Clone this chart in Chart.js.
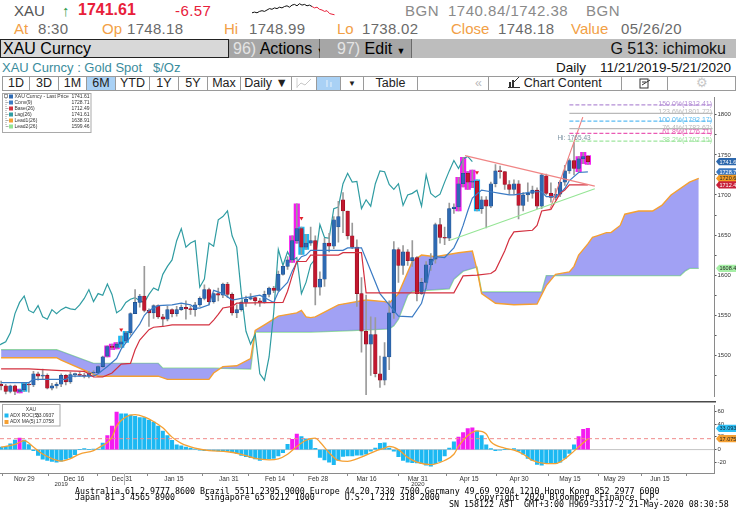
<!DOCTYPE html>
<html>
<head>
<meta charset="utf-8">
<title>XAU Curncy - ichimoku</title>
<script src="https://cdn.jsdelivr.net/npm/chart.js@4.4.1/dist/chart.umd.min.js"></script>
<style>
  body { margin:0; width:736px; height:530px; overflow:hidden; background:#fff; position:relative;
         font-family:"Liberation Sans", Arial, sans-serif; }
  .t { position:absolute; white-space:nowrap; line-height:1; }
  .r1 { top:3px; font-size:15px; }
  .r2 { top:21px; font-size:15px; }
  .lab { color:#f2a046; }
  .val { color:#6a6a6a; letter-spacing:0.3px; }
  .gry { color:#8a8a8a; letter-spacing:0.5px; }
  #bar { position:absolute; left:0; top:39px; width:736px; height:19px; background:#bdbdbd; }
  #bar div { position:absolute; top:0; height:19px; box-sizing:border-box; font-size:16px; line-height:19px; white-space:nowrap; }
  .tb { position:absolute; top:76px; height:15px; box-sizing:border-box; border:1px solid #9a9a9a; background:#fff;
        font-size:12.5px; line-height:13px; text-align:center; color:#222; }
  .ft { position:absolute; font-family:"DejaVu Sans Mono", monospace; font-size:8.3px; line-height:1; color:#000; white-space:pre; }
  canvas { position:absolute; }
</style>
</head>
<body>

<!-- quote line -->
<div class="t r1" style="left:14px;color:#555">XAU</div>
<div class="t r1" style="left:62px;color:#2c9a4c">&#8593;</div>
<div class="t r1" style="left:78px;color:#e8203a;font-weight:bold;font-size:16px;top:2px">1741.61</div>
<div class="t r1" style="left:175px;color:#e8203a;letter-spacing:0.4px">-6.57</div>
<canvas id="spark" width="102" height="16" style="left:251px;top:2px"></canvas>
<div class="t r1 gry" style="left:405px">BGN</div>
<div class="t r1 gry" style="left:448px">1740.84/1742.38</div>
<div class="t r1 gry" style="left:586px">BGN</div>

<div class="t r2 lab" style="left:14px">At</div><div class="t r2 val" style="left:38px">8:30</div>
<div class="t r2 lab" style="left:102px">Op</div><div class="t r2 val" style="left:127px">1748.18</div>
<div class="t r2 lab" style="left:224px">Hi</div><div class="t r2 val" style="left:249px">1748.99</div>
<div class="t r2 lab" style="left:337px">Lo</div><div class="t r2 val" style="left:362px">1738.02</div>
<div class="t r2 lab" style="left:451px">Close</div><div class="t r2 val" style="left:498px">1748.18</div>
<div class="t r2 lab" style="left:571px">Value</div><div class="t r2 val" style="left:621px">05/26/20</div>

<!-- command bar -->
<div id="bar">
  <div style="left:0;width:229px;background:#d8d8d8;border:1px solid #222;padding-left:2px;line-height:17px">XAU Curncy</div>
  <div style="left:229px;width:91px;background:#a6a6a6;border-right:1px solid #6a6a6a;padding-left:4px">
    <span style="color:#e4e4e4">96)</span> Actions <span style="font-size:9px">&#9660;</span></div>
  <div style="left:320px;width:92px;background:#a6a6a6;border-right:1px solid #6a6a6a;padding-left:17px">
    <span style="color:#e4e4e4">97)</span> Edit <span style="font-size:9px">&#9660;</span></div>
  <div style="right:10px;color:#111">G 513: ichimoku</div>
</div>

<div class="t" style="left:2px;top:61px;font-size:13px;color:#3a8c9c">XAU Curncy : Gold Spot &nbsp; $/Oz</div>
<div class="t" style="left:556px;top:61px;font-size:13.5px;color:#111">Daily</div>
<div class="t" style="left:600px;top:61px;font-size:13.5px;color:#111">11/21/2019-5/21/2020</div>

<!-- toolbar -->
<div class="tb" style="left:2px;width:28px">1D</div>
<div class="tb" style="left:29px;width:30px">3D</div>
<div class="tb" style="left:58px;width:29px">1M</div>
<div class="tb" style="left:86px;width:30px;background:#a9d1f5">6M</div>
<div class="tb" style="left:115px;width:35px">YTD</div>
<div class="tb" style="left:149px;width:30px">1Y</div>
<div class="tb" style="left:178px;width:30px">5Y</div>
<div class="tb" style="left:207px;width:34px">Max</div>
<div class="tb" style="left:240px;width:52px">Daily &#9660;</div>
<div class="tb" style="left:291px;width:26px;color:#ccc">
  <svg width="16" height="10" style="margin-top:1px"><polyline points="1,9 5,5 9,7 15,1" fill="none" stroke="#c8c8c8" stroke-width="1"/><line x1="1" y1="0" x2="1" y2="10" stroke="#d0d0d0"/></svg></div>
<div class="tb" style="left:316px;width:25px;background:#a9d1f5">
  <svg width="10" height="10" style="margin-top:1px"><line x1="3" y1="2" x2="3" y2="9" stroke="#e8f2fb"/><line x1="7" y1="4" x2="7" y2="9" stroke="#e8f2fb"/></svg></div>
<div class="tb" style="left:340px;width:24px;font-size:8px">&#9660;</div>
<div class="tb" style="left:363px;width:55px">Table</div>
<div class="tb" style="left:417px;width:72px;text-align:right;padding-right:6px;color:#bbb">&#171;</div>
<div class="tb" style="left:488px;width:134px">
  <svg width="12" height="11" style="vertical-align:-1px"><rect x="1" y="5" width="2" height="5" fill="#333"/><rect x="4" y="3" width="2" height="7" fill="#333"/><line x1="6" y1="5" x2="11" y2="0" stroke="#333"/><line x1="0" y1="10.5" x2="12" y2="10.5" stroke="#333"/></svg>
  Chart Content</div>
<div class="tb" style="left:621px;width:47px">
  <svg width="12" height="11" style="margin-top:1px"><rect x="1" y="1" width="8" height="9" fill="none" stroke="#333"/><line x1="3" y1="4" x2="7" y2="4" stroke="#333"/><line x1="3" y1="7" x2="11" y2="2" stroke="#333"/></svg></div>
<div class="tb" style="left:667px;width:69px;color:#c8c8c8">&#9881;</div>

<canvas id="main" width="736" height="308" style="left:0;top:93px"></canvas>
<canvas id="adx" width="736" height="90" style="left:0;top:401px"></canvas>

<div class="ft" style="left:75px;top:487px">Australia 61 2 9777 8600 Brazil 5511 2395 9000 Europe 44 20 7330 7500 Germany 49 69 9204 1210 Hong Kong 852 2977 6000</div>
<div class="ft" style="left:75px;top:493px">Japan 81 3 4565 8900      Singapore 65 6212 1000      U.S. 1 212 318 2000       Copyright 2020 Bloomberg Finance L.P.</div>
<div class="ft" style="left:449px;top:499.5px">SN 158122 AST  GMT+3:00 H969-3317-2 21-May-2020 08:30:58</div>

<script>
// ---------------------------------------------------------------------------
// Data: daily XAU bars 11/21/2019 - 5/21/2020 (index 0 = Nov 21, 128 = May 21)
// ---------------------------------------------------------------------------
const openPx = [1471,1464,1462,1455,1462,1455,1457,1464,1463,1477,1474,1475,1459,1462,1464,1475,1467,1476,1476,1475,
  1474,1478,1478,1486,1499,1511,1510,1514,1518,1528,1552,1566,1574,1556,1553,1562,1548,1545,1557,1552,
  1557,1560,1558,1557,1563,1571,1582,1567,1577,1575,1589,1576,1553,1557,1566,1570,1572,1568,1566,1576,
  1584,1581,1601,1611,1619,1643,1658,1635,1640,1643,1585,1595,1640,1636,1660,1694,1680,1649,1635,1577,
  1530,1514,1526,1477,1469,1498,1553,1632,1612,1629,1618,1622,1577,1591,1613,1620,1663,1647,1646,1683,
  1685,1714,1727,1716,1717,1683,1694,1686,1714,1730,1729,1713,1707,1714,1687,1700,1702,1706,1686,1724,
  1702,1697,1701,1716,1730,1743,1733,1745,1748.18];
const highPx = [1474,1468,1464,1463,1463,1458,1466,1466,1480,1479,1483,1477,1465,1466,1477,1476,1479,1478,1479,1478,
  1480,1481,1487,1499,1512,1514,1516,1524,1530,1553,1582,1576,1611,1558,1563,1563,1551,1561,1558,1561,
  1563,1568,1561,1566,1573,1588,1584,1578,1584,1590,1591,1578,1563,1568,1574,1577,1573,1571,1580,1585,
  1586,1605,1612,1623,1649,1689,1660,1651,1660,1649,1604,1646,1652,1673,1692,1703,1680,1665,1644,1597,
  1575,1548,1547,1499,1516,1568,1642,1634,1637,1632,1643,1623,1596,1617,1627,1665,1671,1660,1690,1689,
  1722,1747,1729,1731,1719,1698,1698,1716,1738,1736,1729,1718,1719,1718,1703,1715,1711,1709,1727,1726,
  1715,1708,1718,1737,1745,1765.43,1748,1753,1748.99];
const lowPx = [1461,1457,1452,1453,1451,1453,1455,1454,1461,1469,1471,1458,1457,1459,1461,1463,1465,1473,1474,1472,
  1472,1474,1477,1485,1498,1507,1508,1510,1516,1525,1552,1560,1554,1536,1546,1546,1536,1543,1548,1549,
  1556,1545,1551,1549,1561,1569,1563,1565,1568,1572,1572,1550,1547,1555,1561,1569,1563,1561,1565,1573,
  1578,1580,1600,1607,1616,1640,1626,1632,1637,1563,1575,1586,1629,1633,1641,1653,1645,1633,1561,1504,
  1451,1475,1473,1460,1463,1482,1546,1591,1601,1612,1611,1568,1576,1583,1606,1615,1640,1638,1643,1677,
  1680,1710,1707,1709,1680,1677,1659,1684,1710,1721,1707,1701,1701,1670,1680,1692,1696,1683,1683,1700,
  1691,1694,1698,1712,1727,1725,1729,1739,1738.02];
const closePx = [1464,1462,1455,1462,1455,1457,1464,1463,1477,1474,1475,1459,1462,1464,1475,1467,1476,1476,1475,1474,
  1478,1478,1486,1498,1511,1510,1514,1517,1528,1552,1566,1574,1556,1553,1562,1548,1545,1557,1552,1557,
  1560,1558,1557,1563,1571,1582,1567,1577,1575,1589,1576,1553,1557,1566,1570,1572,1568,1566,1576,1584,
  1581,1601,1611,1619,1643,1658,1635,1640,1643,1585,1595,1640,1636,1669,1673,1680,1649,1635,1577,1530,
  1514,1526,1477,1469,1498,1553,1632,1612,1629,1618,1622,1577,1591,1613,1620,1663,1647,1646,1683,1685,
  1714,1727,1716,1717,1683,1694,1686,1714,1730,1729,1713,1707,1714,1687,1700,1702,1706,1686,1725,1702,
  1697,1701,1716,1730,1743,1733,1745,1748,1741.61];

// ichimoku lines as [bar index, price]
const convLine = [[1,1466],[7,1466],[8,1470],[15,1470],[16,1474],[21,1474],[22,1477],[24,1486],[26,1496],[27,1508],
  [29,1523],[31,1539],[32,1550],[33,1556],[35,1562],[38,1563],[40,1565],[42,1563],[43,1559],[44,1559],
  [46,1563],[47,1581],[49,1577],[51,1569],[53,1571],[55,1573],[57,1575],[59,1569],[60,1566],[61,1579],
  [63,1591],[64,1605],[65,1616],[66,1623],[67,1625],[68,1631],[75,1631],[76,1634],[79,1634],[83,1577],
  [87,1549],[90,1548],[92,1565],[93,1585],[94,1613],[95,1623],[97,1622],[99,1634],[100,1646],[101,1662],
  [102,1680],[103,1696],[105,1706],[107,1704],[109,1702],[111,1700],[112,1700],[114,1702],[116,1704],[118,1704],
  [119,1698],[121,1698],[122,1702],[123,1708],[124,1718],[126,1728],[128,1728.71]];
const baseLine = [[1,1483],[7,1483],[14,1481],[19,1480],[20,1477],[21,1473],[23,1473],[25,1478],[27,1489],[29,1490],
  [30,1507],[31,1519],[33,1532],[34,1535],[36,1536],[38,1538],[46,1538],[47,1544],[48,1551],[49,1559],
  [51,1561],[52,1565],[62,1566],[63,1580],[64,1599],[65,1617],[67,1617],[68,1625],[74,1625],[75,1628],
  [79,1628],[80,1578],[99,1578],[101,1599],[104,1600],[107,1602],[108,1606],[110,1630],[111,1645],[112,1654],
  [116,1656],[117,1662],[118,1680],[120,1682],[121,1692],[122,1702],[123,1706],[124,1712.49],[128,1712.49]];
// lagging span, one value per bar starting at bar 0
const lagSpan = [1510,1514,1517,1528,1552,1566,1574,1556,1553,1562,1548,1545,1557,1552,1557,1560,1558,1557,1563,1571,
  1582,1567,1577,1575,1589,1576,1553,1557,1566,1570,1572,1568,1566,1576,1584,1581,1601,1611,1619,1643,
  1658,1635,1640,1643,1585,1595,1640,1636,1669,1673,1680,1649,1635,1577,1530,1514,1526,1477,1469,1498,
  1553,1632,1612,1629,1618,1622,1577,1591,1613,1620,1663,1647,1646,1683,1685,1714,1727,1716,1717,1683,
  1694,1686,1714,1730,1729,1713,1707,1714,1687,1700,1702,1706,1686,1725,1702,1697,1701,1716,1730,1743,
  1733,1745,1748,1741.61];
const lead1 = [[1,1497],[13,1497],[14,1494],[22,1474],[35,1474],[37,1470],[46,1470],[47,1478],[49,1486],[52,1487],
  [55,1496],[56,1531],[58,1538],[61,1549],[65,1553],[66,1556],[67,1548],[68,1547],[69,1548],[74,1563],
  [80,1569],[84,1567],[85,1565],[87,1577],[90,1617],[92,1625],[95,1623],[100,1628],[103,1630],[104,1607],
  [105,1577],[108,1565],[112,1563],[117,1564],[119,1587],[121,1601],[124,1604],[125,1611],[126,1625],[128,1638.91],
  [129,1647],[130,1649],[132,1653],[133,1653],[135,1662],[136,1676],[139,1680],[142,1680],[144,1687],[146,1700],
  [150,1716],[152,1720.65]];
const lead2 = [[1,1507],[13,1507],[14,1505],[21,1490],[35,1490],[36,1484],[47,1484],[55,1483],[56,1529],[68,1529],
  [77,1531],[85,1533],[86,1537],[87,1545],[88,1560],[89,1575],[90,1580],[98,1583],[99,1595],[101,1605],
  [104,1610],[105,1579],[118,1579],[119,1599.46],[148,1599.46],[149,1605],[150,1608.49],[152,1608.49]];

// drawn studies
const fibLevels = [1812.41, 1801.72, 1792.17, 1782.62, 1776.71, 1767.15];
const fibPct = ["150.0%", "123.6%", "100.0%", "76.4%", "61.8%", "38.2%"];
const fibRange = [124, 155];
const trendDown = [[101.4,1749],[129.5,1711]];
const trendUp = [[98.2,1643.5],[129.5,1707.7]];
const trendSteep = [[119.8,1682],[126.9,1797]];
const signalMarks = [[27,1532],[66,1671],[104,1728]];
const periodHigh = [125, 1765.43];
const magentaIdx = [5,24,25,26,64,65,100,101,102,103,126,127,128];
const cyanIdx = [6,27,28,66,67,104];

// lower panel: ADX ROC(5) bars and ADX MA(5)
const adxRoc = [3,4,5,9,15,18,15,8,-1.5,-9,-15,-17,-18.5,-19.5,-18,-15,-12.7,-7.8,0,1.5,
  0,0.5,1,10,22,36.6,58.6,56,56,54,52,50,50,46,43,36.6,29,22,14.6,7.3,
  5.9,3.9,2.4,1,-1,-1.5,-1.5,-1.5,-2,-2,-2.5,-4,-6,-9,-11,-12.7,-14.6,-17,-15.6,-14.6,
  -13.7,-9.8,-4.9,8.3,16,24.4,20.5,17,15.6,2,-12.2,-16,-19.5,-23.4,-17,-10.7,-9.8,-9.8,-8.8,-8.8,
  -7.3,-2.4,2.4,9.8,10.7,2.4,-2.4,-11,-17,-19.5,-20.5,-21,-22,-24.4,-26,-22,-18.5,-9.8,2.4,12.2,
  19.5,26.8,32.7,34,29,22,7.3,1.5,-1.5,-1,0,0,1.5,-2.4,-7.3,-13.7,-17,-23,-24.4,-22,
  -22,-22,-19.5,-13.7,-5.9,7.3,20.5,31.7,33.0937];
const adxMa = [[1,4],[4,8],[6,14],[8,4],[10,-7],[12,-14],[14,-18],[16,-14],[18,-7],[21,-1.5],
  [22,2.4],[25,19.5],[26,37],[28,51],[30,54.6],[32,51],[34,44],[36,34],[38,19.5],[40,9.8],
  [43,2.4],[46,-1.5],[50,-3.4],[53,-7.3],[56,-13.7],[59,-16],[61,-14.6],[63,-7.3],[65,4.9],[67,14.6],
  [69,18],[70,12],[72,-4.9],[74,-17],[76,-18.5],[78,-14.6],[80,-8.8],[82,-2.4],[84,2.4],[85,4.9],
  [87,0],[89,-12.2],[91,-19.5],[94,-23.4],[97,-17],[99,-7.3],[100,4.9],[102,22],[104,29.3],[106,24.4],
  [107,12.2],[110,2.4],[112,-1],[114,-7.3],[116,-17],[119,-22],[121,-22],[123,-14.6],[125,-2.4],[128,17.0758]];

// axes and legends
const priceTicks = [1475,1500,1525,1550,1575,1600,1625,1650,1675,1700,1725,1750,1775,1800];
const adxTicks = [-20,0,20,40,60];
const tickLabels = ["Nov 29","Dec 16","Dec 31","Jan 15","Jan 31","Feb 14","Feb 28","Mar 16","Mar 31","Apr 15","Apr 30","May 15","May 29","Jun 15"];
const tickIdx = [6,16.8,27.2,38.4,50.3,60.3,69.6,80.1,91.2,102.3,113.1,124.1,133.7,143.6];
const tickBounds = [1.1,11.2,21.7,32.5,44.4,54.5,64.2,75.8,86.8,97.3,108.1,119.3,130.1,139.5,149.2];
const yearLabels = ["2019","2020"];
const yearIdx = [14,91.2];
const yearBreak = 27.5;
const legendNames = ["XAU Curncy - Last Price","Conv(9)","Base(26)","Lag(26)","Lead1(26)","Lead2(26)"];
const legendVals = [1741.61, 1728.71, 1712.49, 1741.61, 1638.91, 1599.46];
const sparkBlack = [1743,1743.5,1743,1744,1744.5,1744,1745,1746,1745.5,1746.5,1746,1747,1746.5,1747.5,1748,1747,
  1748.5,1749,1748,1749.5,1748.5,1749,1748,1748.5,1747.5];
const sparkRed = [1747.5,1746.5,1747,1745.5,1745,1744,1744.5,1742.5,1742,1741.6];

// ---------------------------------------------------------------------------
const xMin = 0.76, xMax = 155.3;
const C = {
  up: "#2e6ab3", upEdge: "#1d4d8c", down: "#c2182f", downEdge: "#8c0d20", wick: "#9a9a9a",
  conv: "#3b7bc4", base: "#d3303f", lag: "#2f9ca2", lead1: "#f5a032", lead2: "#93e493",
  cloud: "rgba(128,128,240,0.74)", magenta: "#f41cf0", cyan: "#1cb8f2"
};
const fibColors = ["#b48ed6", "#b9b9b9", "#5bbcf3", "#b9b9b9", "#ea5bb4", "#9de59d"];
const fibDash = [[4,2], [], [4,2], [], [4,2], [4,2]];

Chart.defaults.font.family = "'Liberation Sans', Arial, sans-serif";
Chart.defaults.animation = false;
Chart.defaults.plugins.legend.display = false;
Chart.defaults.plugins.tooltip.enabled = false;

const pts = arr => arr.map(([x, y]) => ({ x, y }));
const bars = openPx.map((_, i) => i);

function line(data, color, width, extra) {
  return Object.assign({ type: "line", data: pts(data), borderColor: color, borderWidth: width,
    pointRadius: 0, tension: 0, fill: false }, extra || {});
}

function drawTags(chart, tags) {
  const ctx = chart.ctx, y = chart.scales.y, x0 = chart.chartArea.right + 2;
  ctx.save();
  ctx.font = "5.5px 'Liberation Sans'";
  ctx.textBaseline = "middle";
  tags.forEach(t => {
    const py = y.getPixelForValue(t.v);
    ctx.fillStyle = t.bg;
    ctx.beginPath();
    ctx.moveTo(x0, py);
    ctx.lineTo(x0 + 3, py - 3.6);
    ctx.lineTo(736, py - 3.6);
    ctx.lineTo(736, py + 3.6);
    ctx.lineTo(x0 + 3, py + 3.6);
    ctx.closePath();
    ctx.fill();
    ctx.fillStyle = t.fg;
    ctx.fillText(t.v.toFixed(t.d), x0 + 3.5, py + 0.4);
  });
  ctx.restore();
}

// ---------------------------- price panel ----------------------------------
const priceDecor = {
  id: "priceDecor",
  afterDatasetsDraw(chart) {
    const ctx = chart.ctx, x = chart.scales.x, y = chart.scales.y;
    ctx.save();
    // fibonacci labels
    ctx.font = "7px 'Liberation Sans'";
    ctx.textAlign = "right";
    ctx.textBaseline = "bottom";
    fibLevels.forEach((v, k) => {
      ctx.fillStyle = fibColors[k];
      ctx.fillText(fibPct[k] + "(" + v.toFixed(2) + ")", chart.chartArea.right - 2, y.getPixelForValue(v) + 2.5);
    });
    // period high note
    ctx.font = "6.5px 'Liberation Sans'";
    ctx.textAlign = "center";
    ctx.fillStyle = "#7d93a3";
    ctx.fillText("Hi: " + periodHigh[1].toFixed(2), x.getPixelForValue(periodHigh[0]), y.getPixelForValue(periodHigh[1]) - 1.5);

    // legend box
    ctx.fillStyle = "#fff";
    ctx.strokeStyle = "#a9a9a9";
    ctx.lineWidth = 1;
    ctx.fillRect(2, 0.5, 89, 39);
    ctx.strokeRect(2.5, 0.5, 88.5, 39);
    const sw = [C.up, C.conv, C.base, C.lag, C.lead1, C.lead2];
    ctx.strokeStyle = "#9a9a9a";
    ctx.strokeRect(4.5, 1.5, 3, 3);
    ctx.setLineDash([1, 1]);
    ctx.beginPath();
    ctx.moveTo(6, 5); ctx.lineTo(6, 33.5);
    ctx.stroke();
    ctx.setLineDash([]);
    ctx.font = "5px 'Liberation Sans'";
    ctx.textBaseline = "middle";
    legendNames.forEach((n, k) => {
      const ry = 3.5 + k * 6;
      if (k > 0) { ctx.strokeStyle = "#b0b0b0"; ctx.beginPath(); ctx.moveTo(6, ry); ctx.lineTo(8.5, ry); ctx.stroke(); }
      ctx.fillStyle = sw[k];
      ctx.fillRect(9, ry - 2, 4, 4);
      ctx.fillStyle = "#333";
      ctx.textAlign = "left";
      ctx.fillText(n, 14.5, ry);
      ctx.textAlign = "right";
      ctx.fillText(legendVals[k].toFixed(2), 89.5, ry);
    });
    ctx.restore();

    drawTags(chart, [
      { v: closePx[closePx.length - 1], d: 2, bg: "#2d68ad", fg: "#fff" },
      { v: convLine[convLine.length - 1][1], d: 2, bg: "#3b78c0", fg: "#fff" },
      { v: lead1[lead1.length - 1][1], d: 2, bg: "#f39c24", fg: "#222" },
      { v: baseLine[baseLine.length - 1][1], d: 2, bg: "#c8203a", fg: "#fff" },
      { v: lead2[lead2.length - 1][1], d: 2, bg: "#a6efa6", fg: "#222" }
    ]);
  }
};

const hlIdx = magentaIdx.concat(cyanIdx);
const priceSets = [
  line(lead1, C.lead1, 1.4, { fill: { target: "+1", above: C.cloud, below: C.cloud }, order: 20 }),
  line(lead2, C.lead2, 1.4, { order: 20 }),
  { type: "bar", data: hlIdx.map(i => ({ x: i, y: [lowPx[i], highPx[i]] })),
    backgroundColor: hlIdx.map(i => magentaIdx.includes(i) ? C.magenta : C.cyan),
    barThickness: 5.5, grouped: false, order: 15 },
  line(lagSpan.map((v, i) => [i, v]), C.lag, 1.2, { order: 12 }),
  { type: "bar", data: bars.map(i => ({ x: i, y: [lowPx[i], highPx[i]] })),
    backgroundColor: C.wick, barThickness: 1, grouped: false, order: 10 },
  { type: "bar", data: bars.map(i => ({ x: i, y: [openPx[i], closePx[i]] })),
    backgroundColor: bars.map(i => closePx[i] >= openPx[i] ? C.up : C.down),
    borderColor: bars.map(i => closePx[i] >= openPx[i] ? C.upEdge : C.downEdge),
    borderWidth: 0.6, borderSkipped: false, barThickness: 3.6, minBarLength: 1, grouped: false, order: 9 },
  line(baseLine, C.base, 1.2, { order: 5 }),
  line(convLine, C.conv, 1.2, { order: 5 }),
  line(trendDown, "#f08585", 1.1, { order: 4 }),
  line(trendUp, "#95e595", 1.1, { order: 4 }),
  line(trendSteep, "#f07a7a", 1.1, { order: 4 }),
  { type: "scatter", data: pts(signalMarks), pointStyle: "triangle", rotation: 180, radius: 2.3,
    backgroundColor: "#e2202a", borderWidth: 0, order: 1 }
];
fibLevels.forEach((v, k) => {
  priceSets.push(line([[fibRange[0], v], [fibRange[1], v]], fibColors[k], 1.2, { borderDash: fibDash[k], order: 3 }));
});

new Chart(document.getElementById("main"), {
  type: "line",
  data: { datasets: priceSets },
  options: {
    responsive: false,
    layout: { padding: 0, autoPadding: false },
    scales: {
      x: { type: "linear", min: xMin, max: xMax, offset: false, grid: { offset: false }, display: false },
      y: {
        type: "linear", position: "right", min: 1448.8, max: 1821.4,
        afterBuildTicks: s => { s.ticks = priceTicks.map(v => ({ value: v })); },
        afterFit: s => { s.width = 22; },
        grid: { drawOnChartArea: false, tickLength: 2.5, color: "#555" },
        border: { color: "#8a8a8a" },
        ticks: { font: { size: 6 }, color: "#333", padding: 1, callback: v => (v % 50 === 0 ? v : "") }
      }
    }
  },
  plugins: [priceDecor]
});

// ---------------------------- ADX panel ------------------------------------
const adxDecor = {
  id: "adxDecor",
  afterDraw(chart) {
    const ctx = chart.ctx, x = chart.scales.x, a = chart.chartArea;
    ctx.save();
    // panel separator
    ctx.strokeStyle = "#4a4a4a";
    ctx.lineWidth = 1.5;
    ctx.beginPath(); ctx.moveTo(0, 0.75); ctx.lineTo(a.right + 2, 0.75); ctx.stroke();
    // half-month tick marks
    ctx.strokeStyle = "#8a8a8a";
    ctx.lineWidth = 1;
    tickBounds.forEach(v => {
      const px = Math.round(x.getPixelForValue(v)) + 0.5;
      ctx.beginPath(); ctx.moveTo(px, a.bottom); ctx.lineTo(px, a.bottom + 3); ctx.stroke();
    });
    const yb = Math.round(x.getPixelForValue(yearBreak)) + 0.5;
    ctx.strokeStyle = "#b0b0b0";
    ctx.beginPath(); ctx.moveTo(yb, a.bottom); ctx.lineTo(yb, a.bottom + 12); ctx.stroke();
    ctx.font = "6px 'Liberation Sans'";
    ctx.fillStyle = "#333";
    ctx.textAlign = "center";
    ctx.textBaseline = "middle";
    yearLabels.forEach((t, k) => ctx.fillText(t, x.getPixelForValue(yearIdx[k]), a.bottom + 11));

    // legend box
    ctx.fillStyle = "#fff";
    ctx.strokeStyle = "#a9a9a9";
    ctx.fillRect(2, 3, 58, 22);
    ctx.strokeRect(2.5, 3.5, 57.5, 21.5);
    ctx.font = "5px 'Liberation Sans'";
    ctx.fillStyle = "#333";
    ctx.fillText("XAU", 31, 8.5);
    const rows = [["ADX ROC(5)", C.cyan, adxRoc[adxRoc.length - 1].toFixed(4)],
                  ["ADX MA(5)", C.lead1, adxMa[adxMa.length - 1][1].toFixed(4)]];
    rows.forEach((r, k) => {
      const ry = 14.5 + k * 6.5;
      ctx.fillStyle = r[1];
      ctx.fillRect(4.5, ry - 2, 4, 4);
      ctx.fillStyle = "#333";
      ctx.textAlign = "left";
      ctx.fillText(r[0], 10, ry);
      ctx.fillText(r[2], 36, ry);
    });
    ctx.restore();

    drawTags(chart, [
      { v: adxRoc[adxRoc.length - 1], d: 4, bg: "#2ec0f5", fg: "#123" },
      { v: adxMa[adxMa.length - 1][1], d: 4, bg: "#f5a032", fg: "#222" }
    ]);
  }
};

const maLast = adxMa[adxMa.length - 1][1];
new Chart(document.getElementById("adx"), {
  type: "line",
  data: {
    datasets: [
      line(adxMa, C.lead1, 1.3, { tension: 0.4, cubicInterpolationMode: "monotone", order: 0 }),
      line([[xMin, maLast], [xMax, maLast]], "#f08a8a", 1, { borderDash: [4, 3], order: 1 }),
      { type: "bar", data: adxRoc.map((v, i) => ({ x: i, y: v })),
        backgroundColor: adxRoc.map((v, i) => magentaIdx.includes(i) ? C.magenta : C.cyan),
        barThickness: 3.4, grouped: false, order: 2 },
      line([[xMin, 0], [xMax, 0]], "#c4c4c4", 1, { order: 3 })
    ]
  },
  options: {
    responsive: false,
    layout: { padding: 0, autoPadding: false },
    scales: {
      x: {
        type: "linear", min: xMin, max: xMax, offset: false,
        afterBuildTicks: s => { s.ticks = tickIdx.map(v => ({ value: v })); },
        afterFit: s => { s.height = 18; },
        grid: { drawOnChartArea: false, drawTicks: false, offset: false },
        border: { color: "#8a8a8a" },
        ticks: { autoSkip: false, maxRotation: 0, padding: 2, font: { size: 6.5 }, color: "#333",
                 callback: (v, i) => tickLabels[i] }
      },
      y: {
        type: "linear", position: "right", min: -36.6, max: 68.8,
        afterBuildTicks: s => { s.ticks = adxTicks.map(v => ({ value: v })); },
        afterFit: s => { s.width = 22; },
        grid: { drawOnChartArea: false, tickLength: 2.5, color: "#555" },
        border: { color: "#8a8a8a" },
        ticks: { font: { size: 6 }, color: "#333", padding: 1 }
      }
    }
  },
  plugins: [adxDecor]
});

// ---------------------------- intraday sparkline ---------------------------
new Chart(document.getElementById("spark"), {
  type: "line",
  data: {
    datasets: [
      line(sparkBlack.map((v, i) => [i, v]), "#111", 1),
      line(sparkRed.map((v, i) => [i + sparkBlack.length - 1, v]), "#e8203a", 1)
    ]
  },
  options: {
    responsive: false,
    layout: { padding: 1 },
    scales: { x: { type: "linear", display: false }, y: { display: false } }
  }
});
</script>
</body>
</html>
